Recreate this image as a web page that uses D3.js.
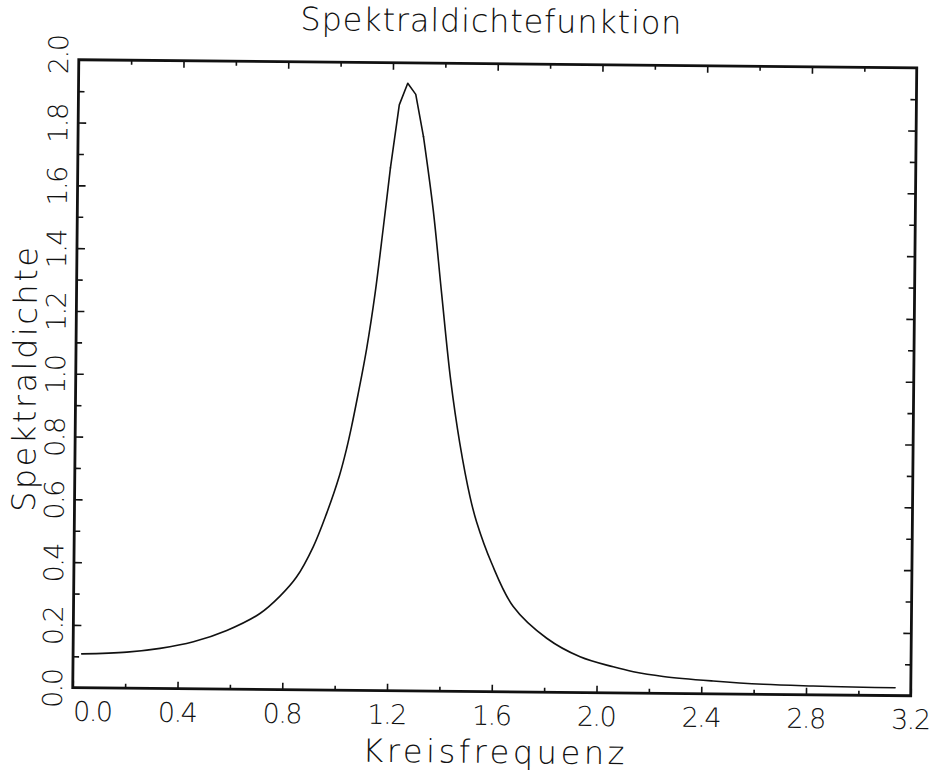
<!DOCTYPE html>
<html>
<head>
<meta charset="utf-8">
<script src="https://cdn.jsdelivr.net/npm/d3@7"></script>
<style>
  body { margin: 0; background: #fff; }
  text { font-family: "DejaVu Sans", sans-serif; font-weight: 200; fill: #111; }
</style>
</head>
<body>
<div id="chart"></div>
<script>
// values (Kreisfrequenz -> Spektraldichte)
const freq = [0.033, 0.205, 0.332, 0.459, 0.586, 0.712, 0.788, 0.851, 0.913, 0.963, 1.011, 1.037, 1.055,
  1.078, 1.11, 1.14, 1.169, 1.194, 1.2255, 1.257, 1.288, 1.319, 1.359, 1.394, 1.432, 1.469, 1.51,
  1.536, 1.595, 1.679, 1.808, 1.936, 2.063, 2.14, 2.254, 2.445, 2.637, 2.827, 3.018, 3.14];
const dens = [0.108, 0.115, 0.128, 0.150, 0.187, 0.242, 0.298, 0.360, 0.456, 0.563, 0.685, 0.770, 0.840,
  0.940, 1.090, 1.265, 1.475, 1.665, 1.866, 1.935, 1.900, 1.766, 1.532, 1.267, 0.990, 0.790, 0.620,
  0.540, 0.409, 0.272, 0.172, 0.114, 0.083, 0.068, 0.054, 0.041, 0.032, 0.028, 0.0254, 0.025];

const xMajor = [0, 0.4, 0.8, 1.2, 1.6, 2.0, 2.4, 2.8, 3.2];
const xMinor = [0.2, 0.6, 1.0, 1.4, 1.8, 2.2, 2.6, 3.0];
const yMajor = [0, 0.2, 0.4, 0.6, 0.8, 1.0, 1.2, 1.4, 1.6, 1.8, 2.0];
const yMinor = [0.1, 0.3, 0.5, 0.7, 0.9, 1.1, 1.3, 1.5, 1.7, 1.9];

const width = 941, height = 773,
    margin = ({ top: 63.75, right: 27.25, bottom: 81.25, left: 75.75 });

const svg = d3.select("#chart")
    .append("svg")
    .attr("width", width)
    .attr("height", height);

// the scan is tilted a little clockwise
const g = svg.append("g")
    .attr("transform", "rotate(0.55, 494.75, 377.75)");

let x = d3.scaleLinear()
    .domain([0, 3.2])
    .range([margin.left, width - margin.right]);

let y = d3.scaleLinear()
    .domain([0, 2])
    .range([height - margin.bottom, margin.top]);

const fmt = d3.format(".1f");

// bottom axis, labels
g.append("g")
    .attr("transform", `translate(0,${y(0)})`)
    .call(d3.axisBottom(x).tickValues(xMajor).tickSize(-7).tickPadding(14).tickFormat(fmt))
    .call(a => a.select(".domain").remove())
    .call(a => a.selectAll("text").attr("font-size", 27).attr("font-family", null)
        .attr("textLength", 40).attr("lengthAdjust", "spacing")
        .attr("dx", (d, i) => i == 0 ? 20 : 0));
g.append("g")
    .attr("transform", `translate(0,${y(0)})`)
    .call(d3.axisBottom(x).tickValues(xMinor).tickSize(-4.5).tickFormat(""))
    .call(a => a.select(".domain").remove());

// top axis, ticks only
g.append("g")
    .attr("transform", `translate(0,${y(2)})`)
    .call(d3.axisTop(x).tickValues(xMajor).tickSize(-7).tickFormat(""))
    .call(a => a.select(".domain").remove());
g.append("g")
    .attr("transform", `translate(0,${y(2)})`)
    .call(d3.axisTop(x).tickValues(xMinor).tickSize(-4.5).tickFormat(""))
    .call(a => a.select(".domain").remove());

// left axis, rotated labels
const yAxis = g.append("g")
    .attr("transform", `translate(${x(0)},0)`)
    .call(d3.axisLeft(y).tickValues(yMajor).tickSize(-8).tickFormat(""))
    .call(a => a.select(".domain").remove());
yAxis.selectAll(".tick").append("text")
    .attr("text-anchor", "middle")
    .attr("font-size", 27)
    .attr("textLength", 40)
    .attr("lengthAdjust", "spacing")
    .attr("transform", d => `translate(-10.75,${d == 2 ? -6 : 0}) rotate(-90)`)
    .text(fmt);
g.append("g")
    .attr("transform", `translate(${x(0)},0)`)
    .call(d3.axisLeft(y).tickValues(yMinor).tickSize(-6).tickFormat(""))
    .call(a => a.select(".domain").remove());

// right axis, ticks only
g.append("g")
    .attr("transform", `translate(${x(3.2)},0)`)
    .call(d3.axisRight(y).tickValues(yMajor).tickSize(-8).tickFormat(""))
    .call(a => a.select(".domain").remove());
g.append("g")
    .attr("transform", `translate(${x(3.2)},0)`)
    .call(d3.axisRight(y).tickValues(yMinor).tickSize(-6).tickFormat(""))
    .call(a => a.select(".domain").remove());

g.selectAll(".tick line").attr("stroke", "#111").attr("stroke-width", 1.6);

// frame
g.append("rect")
    .attr("x", x(0))
    .attr("y", y(2))
    .attr("width", x(3.2) - x(0))
    .attr("height", y(0) - y(2))
    .attr("fill", "none")
    .attr("stroke", "#111")
    .attr("stroke-width", 2.8);

// smooth flanks, straight segments around the sampled peak
const idx = d3.range(dens.length);
const pieces = [
    { ids: idx.slice(0, 18), curve: d3.curveCatmullRom.alpha(0.5) },
    { ids: idx.slice(17, 22), curve: d3.curveLinear },
    { ids: idx.slice(21), curve: d3.curveCatmullRom.alpha(0.5) }
];

pieces.forEach(p => {
    let line = d3.line()
        .x(i => x(freq[i]))
        .y(i => y(dens[i]))
        .curve(p.curve);
    g.append("path")
        .datum(p.ids)
        .attr("d", line)
        .attr("fill", "none")
        .attr("stroke", "#111")
        .attr("stroke-width", 1.6)
        .attr("stroke-linejoin", "round")
        .attr("stroke-linecap", "round");
});

// titles
g.append("text")
    .attr("x", 487.5)
    .attr("y", 32)
    .attr("text-anchor", "middle")
    .attr("font-size", 32)
    .attr("textLength", 381)
    .attr("lengthAdjust", "spacing")
    .text("Spektraldichtefunktion");

g.append("text")
    .attr("x", 497)
    .attr("y", 763)
    .attr("text-anchor", "middle")
    .attr("font-size", 32)
    .attr("textLength", 262)
    .attr("lengthAdjust", "spacing")
    .text("Kreisfrequenz");

g.append("text")
    .attr("transform", "translate(36,384) rotate(-90)")
    .attr("text-anchor", "middle")
    .attr("font-size", 32)
    .attr("textLength", 265)
    .attr("lengthAdjust", "spacing")
    .text("Spektraldichte");
</script>
</body>
</html>
